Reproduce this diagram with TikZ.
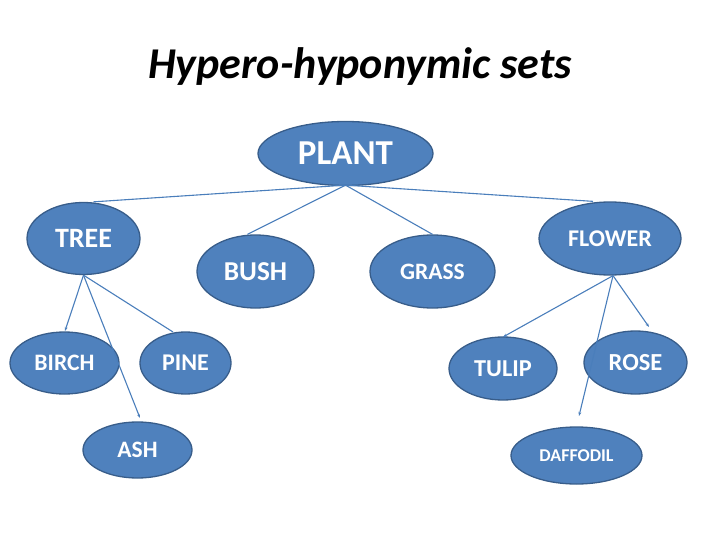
\documentclass[tikz,border=0pt]{standalone}
\usepackage{fontspec}
\setmainfont{Carlito}
\usetikzlibrary{arrows.meta,shapes.geometric}
\definecolor{nodefill}{HTML}{4F81BD}
\definecolor{nodeline}{HTML}{385D8A}
\definecolor{edgecol}{HTML}{4A7EBB}
\tikzset{
  ell/.style={ellipse, fill=nodefill, draw=nodeline, line width=1.3pt, text=white, font=\bfseries, inner sep=0pt},
  edge/.style={draw=edgecol, line width=1.1pt},
  aedge/.style={edge, -{Stealth[length=4pt,width=3pt]}}
}
\begin{document}
\begin{tikzpicture}[x=1pt,y=-1pt]
\useasboundingbox (0,0) rectangle (720,540);
\node[font=\fontsize{44}{44}\selectfont\bfseries\itshape, anchor=base, inner sep=0pt] (title) at (360,79) {Hypero-hyponymic sets};
\node[ell, minimum width=175pt, minimum height=64pt, font=\fontsize{35}{35}\selectfont\bfseries] (plant) at (345.5,153.5) {PLANT};
\node[ell, minimum width=113pt, minimum height=72pt, font=\fontsize{28}{28}\selectfont\bfseries] (tree) at (83.5,238.5) {TREE};
\node[ell, minimum width=117pt, minimum height=73pt, font=\fontsize{27.3}{27.3}\selectfont\bfseries] (bush) at (255.5,271.5) {BUSH};
\node[ell, minimum width=125pt, minimum height=73pt, font=\fontsize{23.5}{23.5}\selectfont\bfseries] (grass) at (432.5,271.5) {GRASS};
\node[ell, minimum width=142pt, minimum height=73pt, font=\fontsize{24}{24}\selectfont\bfseries] (flower) at (610,238.5) {FLOWER};
\node[ell, minimum width=109pt, minimum height=62pt, font=\fontsize{23.6}{23.6}\selectfont\bfseries] (birch) at (64.5,363) {BIRCH};
\node[ell, minimum width=91pt, minimum height=62pt, font=\fontsize{24}{24}\selectfont\bfseries] (pine) at (185.5,363) {PINE};
\node[ell, minimum width=109pt, minimum height=56pt, font=\fontsize{23.5}{23.5}\selectfont\bfseries] (ash) at (137.5,450) {ASH};
\node[ell, minimum width=108pt, minimum height=63pt, font=\fontsize{24.3}{24.3}\selectfont\bfseries] (tulip) at (503,368.5) {TULIP};
\node[ell, minimum width=103pt, minimum height=63pt, font=\fontsize{24.5}{24.5}\selectfont\bfseries] (rose) at (635.5,362.5) {ROSE};
\node[ell, minimum width=131pt, minimum height=57pt, font=\fontsize{18}{18}\selectfont\bfseries] (daff) at (576.5,455.5) {DAFFODIL};
% connectors from PLANT
\coordinate (ps) at ([yshift=1pt]plant.south);
\draw[edge] (ps) -- ([xshift=10pt]tree.north);
\draw[edge] (ps) -- ([xshift=-8pt]bush.north);
\draw[edge] (ps) -- (grass.north);
\draw[edge] (ps) -- ([xshift=-17pt]flower.north);
% connectors from TREE
\coordinate (ts) at (tree.south);
\coordinate (tb) at (65,331);
\coordinate (ta) at (140,418);
\coordinate (tp) at (173,332);
\draw[aedge] (ts) -- (tb);
\draw[aedge] (ts) -- (ta);
\draw[edge] (ts) -- (tp);
% connectors from FLOWER
\coordinate (fs) at ([xshift=3pt]flower.south);
\coordinate (ft) at (503,337);
\coordinate (fd) at (579,416);
\coordinate (fr) at (649,327);
\draw[aedge] (fs) -- (ft);
\draw[aedge] (fs) -- (fd);
\draw[aedge] (fs) -- (fr);
\end{tikzpicture}
\end{document}
